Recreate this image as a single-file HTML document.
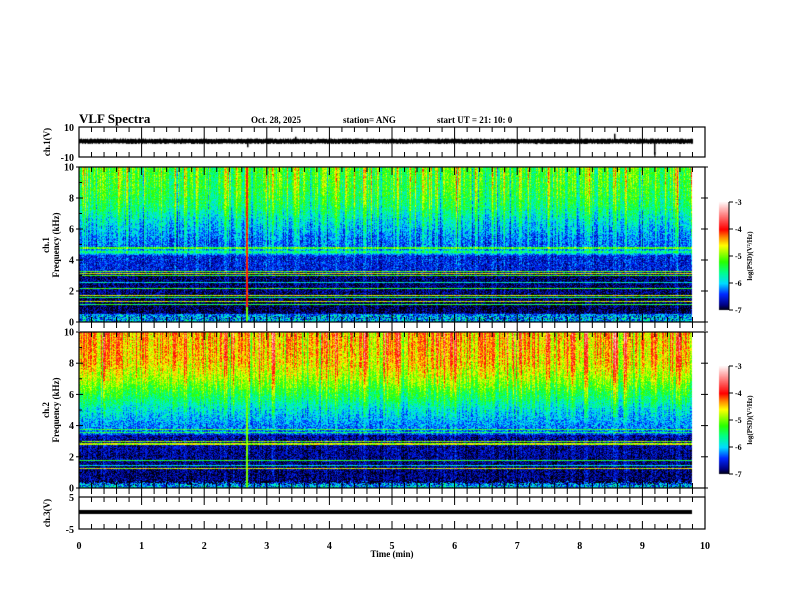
<!DOCTYPE html>
<html><head><meta charset="utf-8">
<style>
html,body{margin:0;padding:0;background:#fff;}
#wrap{position:relative;width:792px;height:612px;overflow:hidden;font-family:"Liberation Serif",serif;font-weight:bold;}
canvas{position:absolute;left:0;top:0;}
svg{position:absolute;left:0;top:0;}
</style></head>
<body>
<div id="wrap">
<canvas id="cv" width="792" height="612"></canvas>
<svg id="sv" width="792" height="612">
<text x="79" y="123" font-size="13" font-family="Liberation Serif" font-weight="bold">VLF Spectra</text>
<text x="251" y="123" font-size="9" font-family="Liberation Serif" font-weight="bold">Oct. 28, 2025</text>
<text x="343" y="123" font-size="9" font-family="Liberation Serif" font-weight="bold">station= ANG</text>
<text x="437" y="123" font-size="9" font-family="Liberation Serif" font-weight="bold">start  UT =   21: 10: 0</text>
<text x="392" y="557" font-size="9" text-anchor="middle" font-family="Liberation Serif" font-weight="bold">Time  (min)</text>
</svg>
</div>
<script>
// ---- data ----
const xTicks=[0,1,2,3,4,5,6,7,8,9,10];
const tEnd=9.8;
const prof1F=[0,0.5,0.6,1.0,2.0,3.0,3.4,4.3,4.5,4.8,5.5,6.5,7.5,8.5,10];
const prof1V=[-6.0,-6.1,-6.9,-6.9,-6.8,-6.85,-6.5,-6.5,-5.8,-6.3,-6.2,-5.9,-5.5,-5.3,-5.2];
const lines1F=[4.8,4.55,3.3,3.18,3.05,2.6,2.2,1.75,1.6,1.35,1.15];
const lines1V=[-5.2,-5.6,-5.1,-4.7,-5.2,-5.9,-5.3,-4.7,-5.5,-4.8,-5.4];
const prof2F=[0,0.3,0.4,1.0,2.0,3.4,3.5,4.0,5.0,6.0,7.0,8.0,10];
const prof2V=[-5.9,-6.2,-6.8,-6.8,-6.75,-6.7,-6.3,-6.2,-5.9,-5.4,-4.9,-4.55,-4.4];
const lines2F=[3.8,3.6,3.0,2.85,1.8,1.5,1.3];
const lines2V=[-5.3,-5.4,-5.0,-4.8,-5.3,-5.9,-4.7];
const burstT=[0.05,0.4,0.62,1.05,1.7,2.35,2.68,3.1,3.45,4.1,4.55,5.1,5.5,6.0,6.6,7.05,7.5,8.1,8.55,8.72,9.2,9.55];
const burstV=[0.5,0.5,0.6,0.5,0.6,0.6,2.6,0.5,0.6,0.6,0.5,0.6,0.5,0.7,0.5,0.7,0.6,0.5,0.9,0.6,0.5,0.6];
const spikeT=[2.68,3.45,8.55,9.18,4.0,7.3];
const spikeV=[-4,3,5,-9,2,-2];
const cbTicks=[-3,-4,-5,-6,-7];

// ---- geometry ----
const X0=79,X1=705;
const sx=t=>X0+(X1-X0)*t/10;
const P1={top:167,bot:322}, P2={top:332,bot:488};
const W={top:127,bot:157}, B={top:497,bot:529};
const fy=(P,f)=>P.bot-(P.bot-P.top)*f/10;

function hash(a,b){let h=(a*374761393+b*668265263)|0;h=(h^(h>>>13))*1274126177|0;h=h^(h>>>16);return ((h>>>0)%10000)/10000;}
function interp(F,V,f){if(f<=F[0])return V[0];for(let i=1;i<F.length;i++){if(f<=F[i]){const r=(f-F[i-1])/(F[i]-F[i-1]);return V[i-1]+r*(V[i]-V[i-1]);}}return V[V.length-1];}
const stops=[[-7,[0,0,0]],[-6.8,[0,0,130]],[-6.4,[0,40,255]],[-6.0,[0,220,255]],[-5.6,[0,255,140]],[-5.2,[40,255,0]],[-4.6,[255,255,0]],[-4.3,[255,140,0]],[-4.0,[255,0,0]],[-3.5,[255,120,120]],[-3.0,[255,245,245]]];
function cmap(v){if(v<=-7)return stops[0][1];if(v>=-3)return stops[stops.length-1][1];for(let i=1;i<stops.length;i++){if(v<=stops[i][0]){const a=stops[i-1],b=stops[i];const r=(v-a[0])/(b[0]-a[0]);return [0,1,2].map(k=>Math.round(a[1][k]+r*(b[1][k]-a[1][k])));}}}

const cv=document.getElementById('cv');const ctx=cv.getContext('2d');
function drawSpec(P,pF,pV,lF,lV,seed,strongLevel){
  const xe=Math.round(sx(tEnd));
  const w=xe-X0,h=P.bot-P.top;
  const img=ctx.createImageData(w,h);
  for(let cx=0;cx<w;cx++){
    const h1=hash(cx,seed),h2=hash(cx+999,seed*3);
    let colB=(h1-0.5)*0.9+(h2>0.88?0.6:0)-(h2<0.1?0.4:0);
    let strong=false;
    for(let k=0;k<burstT.length;k++){const d=Math.abs(sx(burstT[k])-X0-cx);if(burstV[k]>2){if(d<1.0)strong=true;else if(d<1.8)colB+=0.6;}else if(d<1.5)colB+=burstV[k];}
    for(let py=0;py<h;py++){
      const f=(h-py)/h*10;
      let v=interp(pF,pV,f);
      for(let k=0;k<lF.length;k++){if(Math.abs(fy(P,lF[k])-(P.top+py))<0.6)v=Math.max(v,lV[k]);}
      const hf=f>4.5?0.4+0.6*(f-4.5)/5.5:0.2;
      v+=colB*hf+(hash(cx*7+py,seed+py)-0.5)*0.7;
      if(f<0.5)v+=(hash(cx,py+seed)-0.6)*1.2;
      if(strong)v=Math.max(v,(f>1?strongLevel:-5.0)+(hash(py,cx)-0.5)*0.3);
      const c=cmap(v);
      const i=(py*w+cx)*4;img.data[i]=c[0];img.data[i+1]=c[1];img.data[i+2]=c[2];img.data[i+3]=255;
    }
  }
  ctx.putImageData(img,X0,P.top);
}
drawSpec(P1,prof1F,prof1V,lines1F,lines1V,11,-4.05);
drawSpec(P2,prof2F,prof2V,lines2F,lines2V,53,-5.0);
function drawCB(y0,y1){for(let y=y0;y<y1;y++){const v=-3-4*(y-y0)/(y1-y0);const c=cmap(v);ctx.fillStyle=`rgb(${c[0]},${c[1]},${c[2]})`;ctx.fillRect(719,y,10,1);}}
drawCB(202,310);drawCB(366,474);
// waveform
const wy=v=>W.top+(W.bot-W.top)*(10-v)/20;
ctx.fillStyle='#000';
const xe=Math.round(sx(tEnd));
for(let px=0;px<=xe-X0;px++){
  const a=(hash(px,3)-0.5)*2.2, b=(hash(px,5)-0.5)*2.2;
  const y1=wy(0.5+1.2+Math.abs(a)*0.6), y2=wy(0.5-1.2-Math.abs(b)*0.6);
  ctx.fillRect(X0+px,y1,1,y2-y1);
}
for(let k=0;k<spikeT.length;k++){const x=Math.round(sx(spikeT[k]));const y1=wy(0.5),y2=wy(0.5+spikeV[k]);ctx.fillRect(x,Math.min(y1,y2),1.5,Math.abs(y2-y1));}
ctx.fillRect(X0,510,xe-X0,4);

// ---- axes ----
const svg=document.getElementById('sv');const NS='http://www.w3.org/2000/svg';
function el(tag,attrs,name,parent){const e=document.createElementNS(NS,tag);for(const k in attrs)e.setAttribute(k,attrs[k]);


(parent||svg).appendChild(e);return e;}
function txt(x,y,s,name,anchor,size,rot){const t=el('text',{x:x,y:y,'font-size':size||9,'text-anchor':anchor||'middle','font-family':'Liberation Serif','font-weight':'bold'},name);if(rot)t.setAttribute('transform',`rotate(-90 ${x} ${y})`);t.textContent=s;return t;}
function box(P,name,fullMajor){
  el('rect',{x:X0,y:P.top,width:X1-X0,height:P.bot-P.top,fill:'none',stroke:'#000','stroke-width':1.2},name+'-frame');
  for(let i=0;i<=50;i++){const x=sx(i*0.2);const maj=i%5===0;const L=maj?8:5;
    if(fullMajor&&maj){el('line',{x1:x,x2:x,y1:P.top,y2:P.bot,stroke:'#000','stroke-width':1},name+'-gridline');continue;}
    el('line',{x1:x,x2:x,y1:P.top,y2:P.top+L,stroke:'#000','stroke-width':1},name+'-tick-top');
    el('line',{x1:x,x2:x,y1:P.bot,y2:P.bot-L,stroke:'#000','stroke-width':1},name+'-tick-bottom');}
}
box(W,'ch1-wave',true);box(P1,'ch1-spec',false);box(P2,'ch2-spec',false);box(B,'ch3-wave',false);
[P1,P2].forEach((P,j)=>{for(let i=0;i<=50;i++){const x=sx(i*0.2);el('line',{x1:x,x2:x,y1:P.bot,y2:P.bot+(i%5===0?9:6),stroke:'#000'},'gap-tick');}});
function yax(P,vals,fn,name){vals.forEach(v=>{const y=fn(v);el('line',{x1:X0-3,x2:X0+4,y1:y,y2:y,stroke:'#000'},name+'-ytick');el('line',{x1:X1-4,x2:X1+3,y1:y,y2:y,stroke:'#000'},name+'-ytick-right');txt(X0-5,y+3.5,String(v),name+'-ylabel','end',10);});}
yax(P1,[0,2,4,6,8,10],v=>fy(P1,v),'ch1-spec');
yax(P2,[0,2,4,6,8,10],v=>fy(P2,v),'ch2-spec');
[1,3,5,7,9].forEach(v=>{[P1,P2].forEach(P=>{const y=fy(P,v);el('line',{x1:X0,x2:X0+3,y1:y,y2:y,stroke:'#000'},'minor-ytick');});});
txt(X0-5,W.top+4,'10','ch1-wave-ylabel','end',10);txt(X0-5,W.bot+4,'-10','ch1-wave-ylabel','end',10);
txt(X0-5,B.top+4,'5','ch3-wave-ylabel','end',10);txt(X0-5,B.bot+4,'-5','ch3-wave-ylabel','end',10);
txt(50,142,'ch.1(V)','ch1-wave-title','middle',9,true);
txt(49,245,'ch.1','ch1-spec-title','middle',9,true);txt(59,245,'Frequency  (kHz)','ch1-spec-ytitle','middle',9,true);
txt(49,410,'ch.2','ch2-spec-title','middle',9,true);txt(59,410,'Frequency  (kHz)','ch2-spec-ytitle','middle',9,true);
txt(50,513,'ch.3(V)','ch3-wave-title','middle',9,true);
xTicks.forEach(v=>txt(sx(v),549,String(v),'x-tick-label','middle',10));
[[202,310],[366,474]].forEach(([a,b],j)=>{
  el('line',{x1:729,x2:729,y1:a,y2:b,stroke:'#000'},'colorbar-axis');
  cbTicks.forEach(v=>{const y=a+(b-a)*(-3-v)/4;el('line',{x1:729,x2:733,y1:y,y2:y,stroke:'#000'},'colorbar-tick');txt(735,y+3,String(v),'colorbar-label','start',8);});
  txt(752,(a+b)/2,'log(PSD)(V\u00B2/Hz)','colorbar-title','middle',7,true);
});
</script>
</body></html>
